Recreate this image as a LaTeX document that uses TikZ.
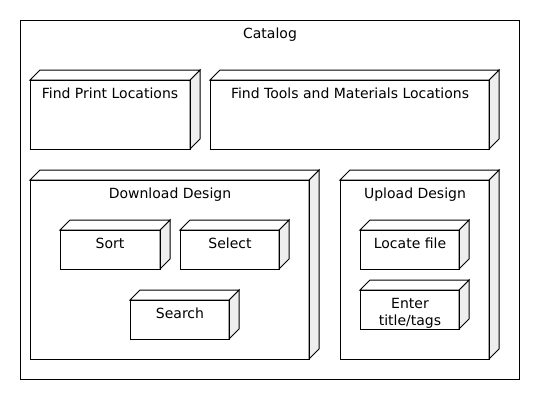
\documentclass[tikz,border=0pt]{standalone}
\usepackage{fontspec}
\setmainfont{DejaVu Sans}
\definecolor{sidegray}{HTML}{EEEEEE}
\tikzset{
  face/.style={draw=black,line width=1pt,line join=miter},
  label/.style={anchor=base,inner sep=0pt,font=\fontsize{14}{17}\selectfont}
}
% 3d box: left, top, right, bottom of the front face
\newcommand{\cubebox}[4]{%
  \filldraw[face,fill=sidegray] (#3,#2) -- ++(10,-10) -- (#3+10,#4-10) -- (#3,#4) -- cycle;
  \filldraw[face,fill=white] (#1,#2) -- ++(10,-10) -- (#3+10,#2-10) -- (#3,#2) -- cycle;
  \draw[face] (#1,#2) rectangle (#3,#4);
}
\begin{document}
\begin{tikzpicture}[x=1pt,y=-1pt]
  \useasboundingbox (0,0) rectangle (540,400);
  \fill[white] (0,0) rectangle (540,400);

  \draw[face] (20,20) rectangle (519,379);
  \node[label] (catalog) at (270,38) {Catalog};

  \cubebox{30}{80}{190}{149}
  \node[label] (print) at (110,98) {Find Print Locations};

  \cubebox{210}{80}{489}{149}
  \node[label] (tools) at (350,98) {Find Tools and Materials Locations};

  \cubebox{30}{180}{309}{359}
  \node[label] (download) at (170,198) {Download Design};
  \cubebox{60}{230}{160}{269}
  \node[label] (sort) at (110,248) {Sort};
  \cubebox{180}{230}{279}{269}
  \node[label] (select) at (230,248) {Select};
  \cubebox{130}{300}{229}{339}
  \node[label] (search) at (180,318) {Search};

  \cubebox{340}{180}{489}{359}
  \node[label] (upload) at (415,198) {Upload Design};
  \cubebox{360}{230}{459}{269}
  \node[label] (locate) at (410,248) {Locate file};
  \cubebox{360}{290}{459}{329}
  \node[label] (enter) at (410,308) {Enter};
  \node[label] (tags) at (410,325) {title/tags};
\end{tikzpicture}
\end{document}
